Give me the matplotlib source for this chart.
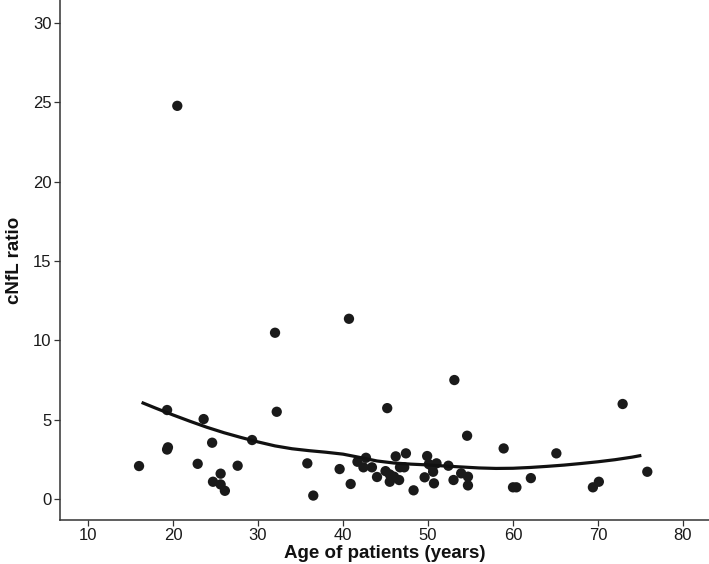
import matplotlib
matplotlib.use("Agg")
import matplotlib.pyplot as plt

# Patient age (years) and cNfL ratio
age = [16.0, 19.3, 19.3, 19.4, 20.5, 22.9, 23.6, 24.6, 24.7, 25.6, 25.6, 26.1,
       27.6, 29.3, 32.0, 32.2, 35.8, 36.5, 39.6, 40.7, 40.9, 41.7, 42.4, 42.7,
       43.4, 44.0, 45.0, 45.2, 45.5, 45.5, 46.0, 46.2, 46.6, 46.7, 47.2, 47.4,
       48.3, 49.6, 49.9, 50.1, 50.5, 50.6, 50.7, 51.0, 52.4, 53.0, 53.1, 53.9,
       54.6, 54.7, 54.7, 58.9, 60.0, 60.4, 62.1, 65.1, 69.4, 70.1, 72.9, 75.8]
ratio = [2.08, 5.61, 3.12, 3.26, 24.78, 2.22, 5.04, 3.55, 1.09, 1.60, 0.92, 0.52,
         2.10, 3.72, 10.48, 5.50, 2.25, 0.22, 1.89, 11.36, 0.95, 2.35, 2.00, 2.60,
         2.00, 1.39, 1.76, 5.73, 1.55, 1.09, 1.41, 2.69, 1.20, 2.00, 2.00, 2.88,
         0.55, 1.37, 2.71, 2.20, 2.04, 1.72, 0.99, 2.25, 2.10, 1.20, 7.50, 1.62,
         3.99, 1.41, 0.86, 3.19, 0.74, 0.74, 1.32, 2.88, 0.74, 1.09, 5.99, 1.72]

# Smoothed trend
trend_x = [16.3, 18, 20, 22, 24, 26, 28, 30, 32, 34, 36, 38, 40, 42, 44, 46,
           48, 50, 52, 54, 56, 58, 60, 62, 64, 66, 68, 70, 72, 74, 75.1]
trend_y = [6.09, 5.72, 5.30, 4.90, 4.52, 4.18, 3.88, 3.60, 3.35, 3.17, 3.05,
           2.95, 2.83, 2.62, 2.40, 2.27, 2.20, 2.15, 2.08, 2.02, 1.96, 1.93,
           1.94, 1.99, 2.06, 2.14, 2.24, 2.35, 2.48, 2.64, 2.75]

x_ticks = [10, 20, 30, 40, 50, 60, 70, 80]
y_ticks = [0, 5, 10, 15, 20, 25, 30]

plt.rcParams['font.family'] = ['Liberation Sans', 'DejaVu Sans']

fig = plt.figure(figsize=(7.09, 5.64), dpi=100)
ax = fig.add_axes([60 / 709, 44 / 564, 1 - 60 / 709, 1 - 44 / 564])

ax.scatter(age, ratio, s=55, color='#1a1a1a', edgecolors='none', zorder=3)
ax.plot(trend_x, trend_y, color='#111111', lw=2.3, zorder=4,
        solid_capstyle='butt', solid_joinstyle='round')

ax.set_xlim(6.7, 83.06)
ax.set_ylim(-1.32, 31.45)
ax.set_xticks(x_ticks)
ax.set_yticks(y_ticks)

for s in ['top', 'right']:
    ax.spines[s].set_visible(False)
for s in ['left', 'bottom']:
    ax.spines[s].set_color('#333333')
    ax.spines[s].set_linewidth(1.1)

ax.tick_params(axis='both', direction='out', length=4, width=0.9,
               color='#333333', labelsize=12, labelcolor='#1a1a1a', pad=2)

ax.set_xlabel('Age of patients (years)', fontsize=13.5, fontweight='bold',
              color='#111111', labelpad=1)
ax.set_ylabel('cNfL ratio', fontsize=13.5, fontweight='bold',
              color='#111111', labelpad=7)

fig.savefig('out.png', dpi=100, facecolor='white')
